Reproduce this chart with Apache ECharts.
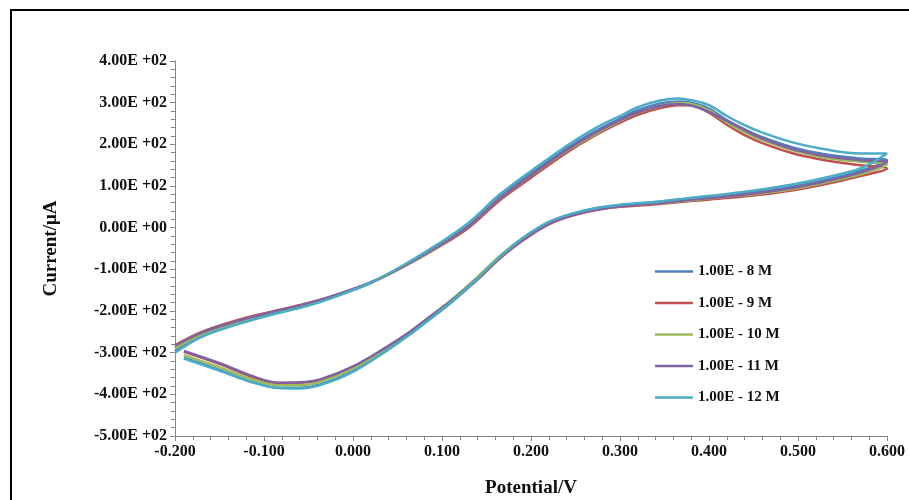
<!DOCTYPE html>
<html lang="en">
<head>
    <meta charset="UTF-8">
    <title>CV curves</title>
    <script src="https://cdn.jsdelivr.net/npm/echarts@6/dist/echarts.min.js"></script>
    <style>
        html, body { margin: 0; padding: 0; background: #fff; }
        #frame { position: absolute; left: 10px; top: 9px; width: 910px; height: 500px; border-left: 2px solid #000; border-top: 2px solid #000; }
        #main { position: absolute; left: 0; top: 0; width: 909px; height: 500px; }
    </style>
</head>
<body>
<div id="frame"></div>
<div id="main"></div>
<script>
    // potential (V): forward scan -0.2 -> 0.6, then reverse scan back
    var potential = [
        -0.2, -0.17, -0.13, -0.09, -0.05, -0.02, 0.02, 0.055, 0.095, 0.13, 0.165, 0.2, 0.24, 0.27,
        0.3, 0.32, 0.345, 0.365, 0.38, 0.4, 0.42, 0.44, 0.46, 0.495, 0.53, 0.57, 0.6,
        0.57, 0.53, 0.495, 0.457, 0.42, 0.38, 0.345, 0.3, 0.275, 0.25, 0.22, 0.19, 0.165, 0.14,
        0.11, 0.08, 0.064, 0.038, 0.0, -0.037, -0.06, -0.084, -0.112, -0.149, -0.19
    ];

    var seriesNames = ['1.00E - 8 M', '1.00E - 9 M', '1.00E - 10 M', '1.00E - 11 M', '1.00E - 12 M'];
    var seriesColors = ['#4F81BD', '#C0504D', '#9BBB59', '#8064A2', '#4BACC6'];

    // current (uA) for each concentration
    var current8 = [
        -296, -260, -230, -207, -186, -165, -133, -94, -44, 8, 74, 130, 190, 229,
        262, 282, 298, 303, 300, 286, 258, 236, 217, 192, 176, 166, 162,
        136, 114, 99, 87, 78, 70, 62, 54, 47, 35, 12, -28, -72, -124,
        -180, -230, -256, -294, -344, -376, -384, -384, -371, -342, -312
    ];
    var current9 = [
        -282, -250, -222, -201, -181, -162, -132, -96, -48, 0, 66, 120, 180, 219,
        252, 271, 287, 294, 294, 276, 247, 222, 203, 178, 162, 150, 142,
        124, 104, 90, 79, 71, 64, 57, 50, 43, 31, 8, -32, -74, -124,
        -178, -226, -252, -288, -335, -366, -373, -373, -359, -328, -298
    ];
    var current10 = [
        -290, -256, -227, -205, -184, -164, -132, -95, -46, 4, 70, 125, 184, 222,
        256, 276, 292, 299, 297, 282, 252, 229, 210, 185, 168, 158, 152,
        128, 108, 93, 82, 74, 66, 59, 52, 46, 34, 13, -26, -68, -118,
        -174, -224, -250, -288, -338, -370, -378, -378, -365, -336, -306
    ];
    var current11 = [
        -284, -252, -224, -202, -181, -162, -131, -94, -45, 4, 70, 126, 186, 225,
        258, 277, 292, 297, 293, 278, 256, 234, 214, 188, 172, 162, 158,
        132, 111, 96, 84, 75, 67, 59, 51, 44, 32, 10, -30, -72, -122,
        -176, -224, -250, -286, -333, -364, -371, -372, -357, -326, -296
    ];
    var current12 = [
        -300, -262, -232, -208, -187, -166, -132, -92, -40, 12, 80, 136, 196, 236,
        268, 289, 305, 310, 306, 294, 268, 246, 228, 204, 188, 178, 178,
        142, 120, 104, 91, 81, 72, 63, 55, 48, 36, 14, -26, -70, -122,
        -179, -230, -256, -295, -346, -378, -386, -385, -372, -344, -314
    ];

    var currents = [current8, current9, current10, current11, current12];

    function sciLabel(v) {
        if (v === 0) return '0.00E +00';
        var e = Math.floor(Math.log10(Math.abs(v)));
        var m = v / Math.pow(10, e);
        var es = (e < 10 ? '0' : '') + e;
        return m.toFixed(2) + 'E +' + es;
    }

    var chart = echarts.init(document.getElementById('main'));
    var font = '"Liberation Serif", "Times New Roman", serif';

    var series = [];
    for (var s = 0; s < seriesNames.length; s++) {
        var pts = [];
        for (var i = 0; i < potential.length; i++) {
            pts.push([potential[i], currents[s][i]]);
        }
        series.push({
            name: seriesNames[s],
            type: 'line',
            data: pts,
            smooth: 0.35,
            symbol: 'none',
            lineStyle: { width: 2.5, color: seriesColors[s] },
            itemStyle: { color: seriesColors[s] }
        });
    }

    var option = {
        animation: false,
        backgroundColor: 'transparent',
        grid: { left: 175, right: 22, top: 61, bottom: 64, outerBoundsMode: 'none' },
        legend: {
            orient: 'vertical',
            left: 650,
            top: 259,
            icon: 'rect',
            itemWidth: 38,
            itemHeight: 2.5,
            itemGap: 16.5,
            data: seriesNames,
            textStyle: { fontFamily: font, fontWeight: 'bold', fontSize: 15, color: '#111' }
        },
        xAxis: {
            type: 'value',
            min: -0.2,
            max: 0.6,
            interval: 0.1,
            name: 'Potential/V',
            nameLocation: 'middle',
            nameGap: 43,
            nameTextStyle: { fontFamily: font, fontWeight: 'bold', fontSize: 19, color: '#111' },
            axisLine: { onZero: false, lineStyle: { color: '#868686', width: 1 } },
            axisTick: { show: true, length: 5, lineStyle: { color: '#868686' } },
            minorTick: { show: true, splitNumber: 5, length: 4, lineStyle: { color: '#868686' } },
            splitLine: { show: false },
            axisLabel: {
                margin: 8,
                fontFamily: font, fontWeight: 'bold', fontSize: 16, color: '#111',
                formatter: function (v) { return v.toFixed(3); }
            }
        },
        yAxis: {
            type: 'value',
            min: -500,
            max: 400,
            interval: 100,
            name: 'Current/\u03bcA',
            nameLocation: 'middle',
            nameGap: 114,
            nameRotate: 90,
            nameTextStyle: { fontFamily: font, fontWeight: 'bold', fontSize: 19, color: '#111' },
            axisLine: { show: true, onZero: false, lineStyle: { color: '#868686', width: 1 } },
            axisTick: { show: true, length: 5, lineStyle: { color: '#868686' } },
            minorTick: { show: true, splitNumber: 5, length: 4, lineStyle: { color: '#868686' } },
            splitLine: { show: false },
            axisLabel: {
                margin: 8,
                fontFamily: font, fontWeight: 'bold', fontSize: 16, color: '#111',
                formatter: sciLabel
            }
        },
        series: series
    };
    chart.setOption(option);
</script>
</body>
</html>
